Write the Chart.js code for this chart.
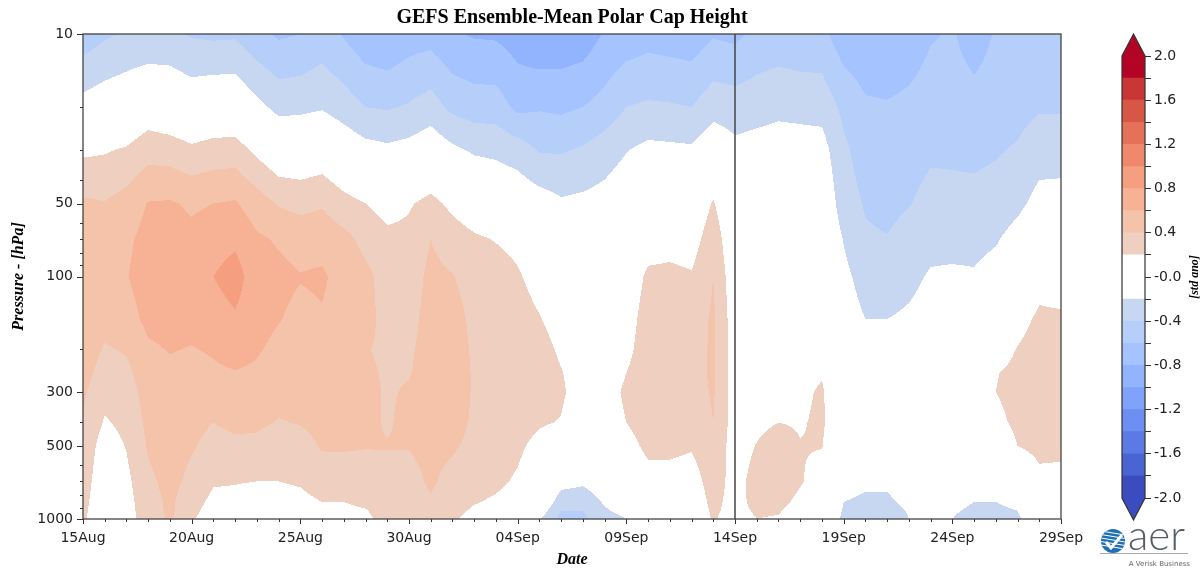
<!DOCTYPE html>
<html>
<head>
<meta charset="utf-8">
<title>GEFS Ensemble-Mean Polar Cap Height</title>
<script src="https://cdn.jsdelivr.net/npm/chart.js@4.4.1/dist/chart.umd.min.js"></script>
<style>
  html, body { margin: 0; padding: 0; background: #fff; }
  #wrap { position: relative; width: 1202px; height: 569px; overflow: hidden; }
  canvas { position: absolute; top: 0; }
  #main { left: 0; }
  #cbar { left: 1090px; }
</style>
</head>
<body>
<div id="wrap">
  <canvas id="main" width="1202" height="569"></canvas>
  <canvas id="cbar" width="112" height="569"></canvas>
</div>
<script>
// tick labels on the date axis, one every 5 days starting 15 Aug
const dateTicks = ["15Aug", "20Aug", "25Aug", "30Aug", "04Sep", "09Sep", "14Sep", "19Sep", "24Sep", "29Sep"];
const forecastDay = 30; // 14Sep, start of the forecast

const pressureLevels = [1000, 925, 850, 700, 500, 400, 300, 250, 200, 150, 100, 70, 50, 30, 20, 10];
const pressureTicks = [10, 50, 100, 300, 500, 1000];
const pressureMinor = [20, 30, 40, 60, 70, 80, 90, 200, 400, 600, 700, 800, 900];

const levelBounds = [-2.0, -1.8, -1.6, -1.4, -1.2, -1.0, -0.8, -0.6, -0.4, -0.2, 0.0, 0.2, 0.4, 0.6, 0.8, 1.0, 1.2, 1.4, 1.6, 1.8, 2.0];

// standardized height anomaly, one value per day (15Aug .. 29Sep) at each level
const z1000 = [0.24,0.02,0.13,0.28,0.43,0.22,0.1,0.1,0.08,0.08, 0.1,0.15,0.15,0.16,0.27,0.25,0.28,0.22,0.15,0.13, 0.1,-0.18,-0.45,-0.45,-0.28,-0.2,0.0,0.0,0.02,0.22, 0.1,0.2,0.18,0.05,0.02,-0.25,-0.28,-0.28,-0.2,-0.12, -0.2,-0.27,-0.27,-0.25,0.03,0.06];
const z925 = [0.25,0.02,0.13,0.3,0.44,0.25,0.12,0.12,0.1,0.1, 0.12,0.17,0.17,0.19,0.28,0.27,0.33,0.24,0.18,0.15, 0.12,-0.08,-0.4,-0.4,-0.22,-0.15,0.02,0.03,0.03,0.24, 0.12,0.23,0.22,0.1,0.03,-0.22,-0.25,-0.25,-0.19,-0.1, -0.18,-0.23,-0.24,-0.2,0.05,0.08];
const z850 = [0.27,0.02,0.13,0.32,0.44,0.28,0.15,0.15,0.12,0.13, 0.15,0.2,0.2,0.23,0.3,0.29,0.38,0.27,0.21,0.18, 0.14,0.0,-0.3,-0.3,-0.18,-0.1,0.05,0.05,0.05,0.26, 0.12,0.27,0.26,0.15,0.05,-0.2,-0.22,-0.22,-0.17,-0.08, -0.15,-0.2,-0.2,-0.15,0.08,0.1];
const z700 = [0.3,0.05,0.15,0.36,0.46,0.35,0.22,0.21,0.2,0.2, 0.22,0.29,0.3,0.3,0.33,0.33,0.43,0.33,0.26,0.23, 0.18,0.08,-0.13,-0.17,-0.1,0.0,0.12,0.12,0.1,0.3, 0.12,0.28,0.33,0.22,0.1,-0.15,-0.18,-0.18,-0.14,-0.07, -0.1,-0.15,-0.1,0.0,0.15,0.15];
const z500 = [0.34,0.1,0.21,0.42,0.49,0.42,0.34,0.36,0.36,0.31, 0.33,0.42,0.42,0.41,0.41,0.41,0.46,0.43,0.34,0.28, 0.23,0.15,0.05,-0.05,0.0,0.12,0.25,0.25,0.22,0.35, 0.1,0.21,0.3,0.21,0.21,-0.08,-0.12,-0.12,-0.1,-0.05, -0.07,-0.08,0.05,0.2,0.25,0.24];
const z400 = [0.38,0.18,0.25,0.45,0.51,0.45,0.4,0.44,0.43,0.39, 0.41,0.45,0.45,0.45,0.38,0.45,0.47,0.48,0.37,0.33, 0.27,0.22,0.19,0.05,0.1,0.2,0.3,0.3,0.28,0.4, 0.1,0.15,0.2,0.18,0.24,-0.05,-0.1,-0.1,-0.08,-0.04, -0.05,-0.06,0.15,0.24,0.3,0.3];
const z300 = [0.43,0.26,0.3,0.49,0.54,0.5,0.5,0.55,0.54,0.46, 0.46,0.5,0.49,0.45,0.38,0.42,0.48,0.5,0.38,0.35, 0.3,0.28,0.23,0.1,0.12,0.23,0.33,0.33,0.32,0.42, 0.1,0.1,0.15,0.15,0.23,-0.05,-0.1,-0.1,-0.08,-0.05, -0.05,-0.05,0.2,0.26,0.33,0.33];
const z250 = [0.48,0.31,0.35,0.52,0.56,0.54,0.57,0.59,0.57,0.5, 0.48,0.51,0.5,0.43,0.38,0.39,0.48,0.5,0.38,0.35, 0.3,0.29,0.21,0.1,0.1,0.2,0.33,0.34,0.33,0.43, 0.1,0.08,0.12,0.13,0.18,-0.06,-0.12,-0.12,-0.1,-0.06, -0.06,-0.06,0.19,0.25,0.33,0.32];
const z200 = [0.52,0.38,0.42,0.57,0.61,0.59,0.62,0.67,0.62,0.55, 0.52,0.53,0.52,0.41,0.37,0.37,0.48,0.5,0.37,0.34, 0.3,0.27,0.17,0.08,0.08,0.14,0.32,0.34,0.32,0.43, 0.1,0.06,0.1,0.1,0.1,-0.08,-0.15,-0.15,-0.12,-0.08, -0.08,-0.08,0.1,0.21,0.3,0.3];
const z150 = [0.55,0.47,0.52,0.65,0.66,0.66,0.7,0.77,0.67,0.61, 0.55,0.58,0.53,0.45,0.35,0.34,0.47,0.48,0.35,0.32, 0.28,0.21,0.12,0.06,0.05,0.1,0.3,0.32,0.3,0.43, 0.08,0.04,0.07,0.08,0.06,-0.1,-0.2,-0.2,-0.17,-0.12, -0.12,-0.12,0.0,0.12,0.24,0.23];
const z100 = [0.55,0.55,0.59,0.7,0.72,0.7,0.8,0.9,0.66,0.65, 0.61,0.63,0.52,0.45,0.32,0.3,0.45,0.41,0.31,0.28, 0.22,0.13,0.05,0.02,0.0,0.05,0.24,0.25,0.22,0.4, 0.05,0.02,0.05,0.05,0.03,-0.15,-0.28,-0.3,-0.25,-0.18, -0.17,-0.18,-0.12,-0.03,0.12,0.1];
const z70 = [0.5,0.5,0.56,0.67,0.7,0.65,0.7,0.75,0.63,0.58, 0.52,0.52,0.46,0.34,0.25,0.25,0.4,0.3,0.23,0.19, 0.15,0.03,-0.05,-0.05,-0.05,0.0,0.1,0.12,0.1,0.33, 0.0,0.0,0.02,0.03,0.0,-0.21,-0.37,-0.39,-0.32,-0.26, -0.26,-0.26,-0.22,-0.12,-0.02,-0.02];
const z50 = [0.43,0.41,0.48,0.61,0.62,0.57,0.6,0.62,0.5,0.38, 0.34,0.38,0.27,0.2,0.12,0.18,0.26,0.15,0.06,0.01, -0.04,-0.1,-0.17,-0.15,-0.12,-0.05,0.0,0.0,0.0,0.22, -0.05,-0.02,0.0,0.0,-0.02,-0.3,-0.42,-0.46,-0.41,-0.34, -0.35,-0.35,-0.32,-0.25,-0.13,-0.12];
const z30 = [0.16,0.18,0.22,0.32,0.3,0.24,0.28,0.29,0.15,0.02, 0.02,0.05,-0.05,-0.13,-0.16,-0.13,-0.06,-0.16,-0.23,-0.25, -0.3,-0.42,-0.42,-0.38,-0.3,-0.21,-0.15,-0.16,-0.17,-0.05, -0.15,-0.12,-0.1,-0.11,-0.12,-0.36,-0.5,-0.52,-0.48,-0.43, -0.43,-0.44,-0.42,-0.38,-0.29,-0.29];
const z20 = [-0.12,-0.07,-0.03,0.06,0.01,-0.05,-0.01,-0.01,-0.14,-0.26, -0.25,-0.22,-0.3,-0.4,-0.42,-0.38,-0.31,-0.45,-0.5,-0.5, -0.65,-0.62,-0.64,-0.6,-0.53,-0.4,-0.37,-0.38,-0.4,-0.28, -0.3,-0.28,-0.25,-0.26,-0.27,-0.45,-0.57,-0.58,-0.55,-0.5, -0.5,-0.52,-0.5,-0.47,-0.42,-0.42];
const z10 = [-0.52,-0.43,-0.38,-0.38,-0.36,-0.42,-0.44,-0.43,-0.55,-0.63, -0.6,-0.52,-0.62,-0.74,-0.78,-0.7,-0.68,-0.78,-0.82,-0.83, -0.9,-0.97,-0.95,-0.92,-0.78,-0.72,-0.68,-0.7,-0.72,-0.62, -0.65,-0.55,-0.52,-0.55,-0.55,-0.72,-0.75,-0.78,-0.72,-0.62, -0.58,-0.7,-0.58,-0.56,-0.56,-0.55];

const anomRows = [z1000, z925, z850, z700, z500, z400, z300, z250, z200, z150, z100, z70, z50, z30, z20, z10];

// coolwarm shades for each 0.2 band, near-zero bands left white
const bandColors = [
  [59, 76, 192], [74, 100, 212], [91, 122, 228], [109, 143, 241], [127, 162, 250],
  [146, 180, 254], [164, 195, 255], [182, 207, 250], [199, 215, 241], [255, 255, 255],
  [255, 255, 255], [239, 208, 192], [245, 195, 170], [247, 178, 149], [245, 159, 128],
  [240, 137, 108], [229, 113, 89], [216, 86, 70], [200, 55, 53], [180, 4, 38]
];
const underColor = [59, 76, 192];
const overColor = [180, 4, 38];
const rgb = c => `rgb(${c[0]},${c[1]},${c[2]})`;

const tickFont = { family: "DejaVu Sans", size: 14 };
const labelFont = { family: "Liberation Serif", size: 16, weight: "bold", style: "italic" };

function bandIndex(v) {
  if (v < levelBounds[0]) return -1;
  if (v >= levelBounds[levelBounds.length - 1]) return bandColors.length;
  let k = 0;
  while (v >= levelBounds[k + 1]) k++;
  return k;
}

// filled contours: every pixel of the plot area is mapped back to (day, pressure)
// through the chart scales and coloured by its interpolated anomaly band
const fieldPlugin = {
  id: "field",
  beforeDatasetsDraw(chart) {
    const { ctx, chartArea: area, scales } = chart;
    const xs = scales.x, ys = scales.y;
    const x0 = Math.round(area.left), y0 = Math.round(area.top);
    const w = Math.round(area.right) - x0, h = Math.round(area.bottom) - y0;
    const img = ctx.createImageData(w, h);
    const nDays = anomRows[0].length;
    const logLev = pressureLevels.map(p => Math.log10(p));

    const ci = new Int32Array(w), ct = new Float32Array(w);
    for (let i = 0; i < w; i++) {
      const d = xs.getValueForPixel(x0 + i + 0.5);
      const k = Math.max(0, Math.min(nDays - 2, Math.floor(d)));
      ci[i] = k; ct[i] = d - k;
    }
    const rj = new Int32Array(h), rs = new Float32Array(h);
    for (let j = 0; j < h; j++) {
      const lp = Math.log10(ys.getValueForPixel(y0 + j + 0.5));
      let k = 0;
      while (k < logLev.length - 2 && lp < logLev[k + 1]) k++;
      rj[j] = k; rs[j] = (logLev[k] - lp) / (logLev[k] - logLev[k + 1]);
    }

    const palette = [underColor, ...bandColors, overColor];
    for (let j = 0; j < h; j++) {
      const lo = anomRows[rj[j]], hi = anomRows[rj[j] + 1], s = rs[j];
      for (let i = 0; i < w; i++) {
        const k = ci[i], t = ct[i];
        const a = lo[k] + (lo[k + 1] - lo[k]) * t;
        const b = hi[k] + (hi[k + 1] - hi[k]) * t;
        const c = palette[bandIndex(a + (b - a) * s) + 1];
        const p = (j * w + i) * 4;
        img.data[p] = c[0];
        img.data[p + 1] = c[1];
        img.data[p + 2] = c[2];
        img.data[p + 3] = 255;
      }
    }
    ctx.putImageData(img, x0, y0);
  },
  afterDraw(chart) {
    const { ctx, chartArea: a, scales: { x, y } } = chart;
    const nDays = anomRows[0].length;
    ctx.save();

    // forecast start line
    const fx = x.getPixelForValue(forecastDay);
    ctx.strokeStyle = "#444";
    ctx.lineWidth = 1.5;
    ctx.beginPath();
    ctx.moveTo(fx, a.top);
    ctx.lineTo(fx, a.bottom);
    ctx.stroke();

    // tick marks
    ctx.strokeStyle = "#333";
    ctx.lineWidth = 1;
    ctx.beginPath();
    for (let d = 0; d < nDays; d++) {
      const px = Math.round(x.getPixelForValue(d)) + 0.5;
      ctx.moveTo(px, a.bottom);
      ctx.lineTo(px, a.bottom + (d % 5 === 0 ? 5 : 3));
    }
    pressureTicks.forEach(p => {
      const py = Math.round(y.getPixelForValue(p)) + 0.5;
      ctx.moveTo(a.left, py);
      ctx.lineTo(a.left - 6, py);
    });
    pressureMinor.forEach(p => {
      const py = Math.round(y.getPixelForValue(p)) + 0.5;
      ctx.moveTo(a.left, py);
      ctx.lineTo(a.left - 3, py);
    });
    ctx.stroke();

    // frame
    ctx.strokeStyle = "#444";
    ctx.lineWidth = 1.3;
    ctx.strokeRect(a.left, a.top, a.right - a.left, a.bottom - a.top);
    ctx.restore();
  }
};

new Chart(document.getElementById("main"), {
  type: "scatter",
  data: { datasets: [] },
  options: {
    responsive: false,
    animation: false,
    layout: { padding: { left: 0, right: 141, top: 0, bottom: 0 } },
    plugins: {
      legend: { display: false },
      tooltip: { enabled: false },
      title: {
        display: true,
        text: "GEFS Ensemble-Mean Polar Cap Height",
        fullSize: false,
        color: "#000",
        font: { family: "Liberation Serif", size: 20, weight: "bold", lineHeight: 1.2 },
        padding: { top: 6, bottom: 4 }
      }
    },
    scales: {
      x: {
        type: "linear",
        min: 0,
        max: anomRows[0].length - 1,
        afterBuildTicks: s => { s.ticks = dateTicks.map((_, i) => ({ value: i * 5 })); },
        afterFit: s => { s.height = 50; },
        grid: { display: false, drawTicks: false },
        border: { display: false },
        ticks: {
          autoSkip: false, maxRotation: 0, padding: 11,
          font: tickFont, color: "#222",
          callback: (v, i) => dateTicks[i]
        },
        title: { display: true, text: "Date", color: "#000", font: labelFont, padding: { top: 0, bottom: 0 } }
      },
      y: {
        type: "logarithmic",
        reverse: true,
        min: 10,
        max: 1000,
        afterBuildTicks: s => { s.ticks = pressureTicks.map(v => ({ value: v })); },
        afterFit: s => { s.width = 83; },
        grid: { display: false, drawTicks: false },
        border: { display: false },
        ticks: { autoSkip: false, padding: 10, font: tickFont, color: "#222", callback: v => String(v) },
        title: { display: true, text: "Pressure - [hPa]", color: "#000", font: labelFont, padding: { top: 9, bottom: 0 } }
      }
    }
  },
  plugins: [fieldPlugin]
});

// colour bar: extension triangles, outline, unit label and logo
const cbarPlugin = {
  id: "cbarDecor",
  afterDraw(chart) {
    const { ctx, chartArea: a, scales: { y } } = chart;
    const top = y.getPixelForValue(levelBounds[levelBounds.length - 1]);
    const bot = y.getPixelForValue(levelBounds[0]);
    const mid = (a.left + a.right) / 2;
    const tip = 22;
    ctx.save();
    ctx.fillStyle = rgb(overColor);
    ctx.beginPath();
    ctx.moveTo(a.left, top); ctx.lineTo(mid, top - tip); ctx.lineTo(a.right, top);
    ctx.closePath(); ctx.fill();
    ctx.fillStyle = rgb(underColor);
    ctx.beginPath();
    ctx.moveTo(a.left, bot); ctx.lineTo(mid, bot + tip); ctx.lineTo(a.right, bot);
    ctx.closePath(); ctx.fill();

    ctx.strokeStyle = "#333";
    ctx.lineWidth = 1.2;
    ctx.beginPath();
    ctx.moveTo(a.left, top); ctx.lineTo(mid, top - tip); ctx.lineTo(a.right, top);
    ctx.lineTo(a.right, bot); ctx.lineTo(mid, bot + tip); ctx.lineTo(a.left, bot);
    ctx.closePath(); ctx.stroke();

    // unit label
    ctx.save();
    ctx.translate(105, 277);
    ctx.rotate(-Math.PI / 2);
    ctx.fillStyle = "#000";
    ctx.font = "italic bold 12px 'Liberation Serif'";
    ctx.textAlign = "center";
    ctx.textBaseline = "middle";
    ctx.fillText("[std ano]", 0, 0);
    ctx.restore();

    // logo
    const cx = 23, cy = 541, r = 12;
    ctx.save();
    ctx.beginPath();
    ctx.arc(cx, cy, r, 0, Math.PI * 2);
    ctx.fillStyle = "#1f6fb4";
    ctx.fill();
    ctx.clip();
    ctx.strokeStyle = "#fff";
    ctx.lineWidth = 1.2;
    for (let k = -8; k <= 8; k += 3.5) {
      ctx.beginPath();
      ctx.moveTo(cx - r, cy + k - 2);
      ctx.lineTo(cx + r, cy + k + 2);
      ctx.stroke();
    }
    ctx.lineWidth = 3;
    ctx.beginPath();
    ctx.moveTo(cx - 7, cy + 1);
    ctx.lineTo(cx - 2, cy + 7);
    ctx.lineTo(cx + 9, cy - 6);
    ctx.stroke();
    ctx.restore();

    ctx.fillStyle = "#555d66";
    ctx.font = "300 42px Lato";
    ctx.textAlign = "left";
    ctx.textBaseline = "alphabetic";
    ctx.fillText("aer", 38, 550);
    ctx.strokeStyle = "#aaa";
    ctx.lineWidth = 1;
    ctx.beginPath();
    ctx.moveTo(10, 553.5); ctx.lineTo(98, 553.5);
    ctx.stroke();
    ctx.fillStyle = "#666";
    ctx.font = "7px 'DejaVu Sans'";
    ctx.textAlign = "right";
    ctx.fillText("A Verisk Business", 100, 566);
    ctx.restore();
  }
};

new Chart(document.getElementById("cbar"), {
  type: "bar",
  data: {
    labels: ["anomaly"],
    datasets: bandColors.map((c, k) => ({
      data: [[levelBounds[0], levelBounds[k + 1]]],
      backgroundColor: rgb(c),
      borderWidth: 0,
      grouped: false,
      barPercentage: 1,
      categoryPercentage: 1
    }))
  },
  options: {
    responsive: false,
    animation: false,
    layout: { padding: { left: 32, right: 0, top: 56, bottom: 71 } },
    plugins: { legend: { display: false }, tooltip: { enabled: false } },
    scales: {
      x: { display: false },
      y: {
        position: "right",
        min: levelBounds[0],
        max: levelBounds[levelBounds.length - 1],
        afterBuildTicks: s => { s.ticks = levelBounds.map(v => ({ value: v })); },
        afterFit: s => { s.width = 57; },
        grid: { drawOnChartArea: false, color: "#333", tickLength: 6 },
        border: { display: false },
        ticks: {
          autoSkip: false, padding: 3, font: tickFont, color: "#222",
          callback: v => {
            const tenths = Math.round(v * 10);
            if (tenths % 4 !== 0) return "";
            return tenths === 0 ? "-0.0" : v.toFixed(1);
          }
        }
      }
    }
  },
  plugins: [cbarPlugin]
});
</script>
</body>
</html>
